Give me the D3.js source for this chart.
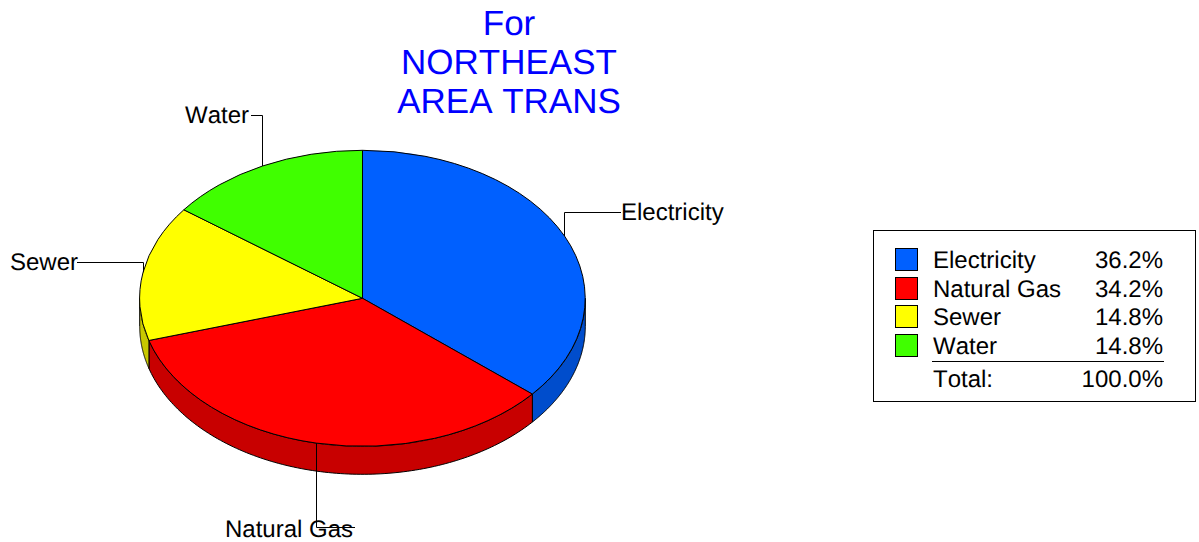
<!DOCTYPE html>
<html>
<head>
<meta charset="utf-8">
<script src="https://cdnjs.cloudflare.com/ajax/libs/d3/7.8.5/d3.min.js"></script>
<style>
html,body{margin:0;padding:0;background:#fff;overflow:hidden}
svg{display:block}
text{font-family:"Liberation Sans",Arial,sans-serif;fill:#000;text-rendering:geometricPrecision;font-kerning:none}
</style>
</head>
<body>
<svg id="c" width="1199" height="542"></svg>
<script>
const categories = ["Electricity", "Natural Gas", "Sewer", "Water"];
const shares = [36.2, 34.2, 14.8, 14.8];
const topColors = ["#0060ff", "#ff0000", "#ffff00", "#40ff00"];
const sideColors = ["#004dcc", "#c80000", "#c8c800", "#33cc00"];
const titleLines = ["For", "NORTHEAST", "AREA TRANS"];
const totalLabel = "Total:";
const totalValue = "100.0%";

const svg = d3.select("#c");
const cx = 362.5, cy = 298.3, rx = 222.8, ry = 148, depth = 28;

const sx = d3.scaleLinear().domain([-1, 1]).range([cx - rx, cx + rx]);
const sy = d3.scaleLinear().domain([-1, 1]).range([cy - ry, cy + ry]);
const px = a => sx(Math.sin(a));
const py = a => sy(-Math.cos(a));

const arcs = d3.pie().sort(null).value(d => d)(shares);

// title
svg.append("g").selectAll("text").data(titleLines).join("text")
  .attr("x", 509).attr("y", (d, i) => 35 + i * 39)
  .attr("text-anchor", "middle").attr("font-size", 35)
  .style("fill", "#0000ff").text(d => d);

// visible side walls (front half of the ellipse)
const line = d3.line().x(d => d[0]).y(d => d[1]);
const sideG = svg.append("g");
arcs.forEach((a, i) => {
  const a0 = Math.max(a.startAngle, Math.PI / 2);
  const a1 = Math.min(a.endAngle, Math.PI * 3 / 2);
  if (a1 <= a0) return;
  const ts = d3.range(0, 121).map(k => a0 + (a1 - a0) * k / 120);
  const upper = ts.map(t => [px(t), py(t)]);
  const lower = ts.slice().reverse().map(t => [px(t), py(t) + depth]);
  sideG.append("path")
    .attr("d", line(upper.concat(lower)) + "Z")
    .attr("fill", sideColors[i]).attr("stroke", "#000").attr("stroke-width", 1);
});

// top face
const arcGen = d3.arc().innerRadius(0).outerRadius(1);
svg.append("g").attr("transform", `translate(${cx},${cy}) scale(${rx},${ry})`)
  .selectAll("path").data(arcs).join("path")
  .attr("d", arcGen)
  .attr("fill", (d, i) => topColors[i])
  .attr("stroke", "#000").attr("stroke-width", 1)
  .attr("vector-effect", "non-scaling-stroke");

// slice labels with elbow leaders
const elbows = [
  {ey: 212, ex: 621, tx: 621, ty: 220},
  {ey: 527, ex: 355, tx: 225, ty: 537},
  {ey: 262, ex: 77,  tx: 10,  ty: 270},
  {ey: 115, ex: 251, tx: 185, ty: 123}
];
const lab = svg.append("g");
arcs.forEach((a, i) => {
  const m = (a.startAngle + a.endAngle) / 2;
  const e = elbows[i];
  const x0 = Math.floor(px(m)) + 0.5;
  lab.append("path")
    .attr("d", line([[x0, py(m)], [x0, e.ey + 0.5], [e.ex, e.ey + 0.5]]))
    .attr("fill", "none").attr("stroke", "#000").attr("stroke-width", 1);
  lab.append("text").attr("x", e.tx).attr("y", e.ty)
    .attr("font-size", 24).text(categories[i]);
});

// legend
const lg = svg.append("g");
lg.append("rect").attr("x", 873.5).attr("y", 230.5).attr("width", 322).attr("height", 171)
  .attr("fill", "#fff").attr("stroke", "#000");
const rowBase = [268, 297, 325, 354];
categories.forEach((c, i) => {
  const b = rowBase[i];
  lg.append("rect").attr("x", 895.5).attr("y", b - 19.5).attr("width", 22).attr("height", 22)
    .attr("fill", topColors[i]).attr("stroke", "#000");
  lg.append("text").attr("x", 933).attr("y", b).attr("font-size", 24).text(c);
  lg.append("text").attr("x", 1163).attr("y", b).attr("font-size", 24)
    .attr("text-anchor", "end").text(d3.format(".1f")(shares[i]) + "%");
});
lg.append("line").attr("x1", 932).attr("x2", 1164).attr("y1", 361.5).attr("y2", 361.5).attr("stroke", "#000");
lg.append("text").attr("x", 933).attr("y", 387).attr("font-size", 24).text(totalLabel);
lg.append("text").attr("x", 1163).attr("y", 387).attr("font-size", 24).attr("text-anchor", "end").text(totalValue);
</script>
</body>
</html>
